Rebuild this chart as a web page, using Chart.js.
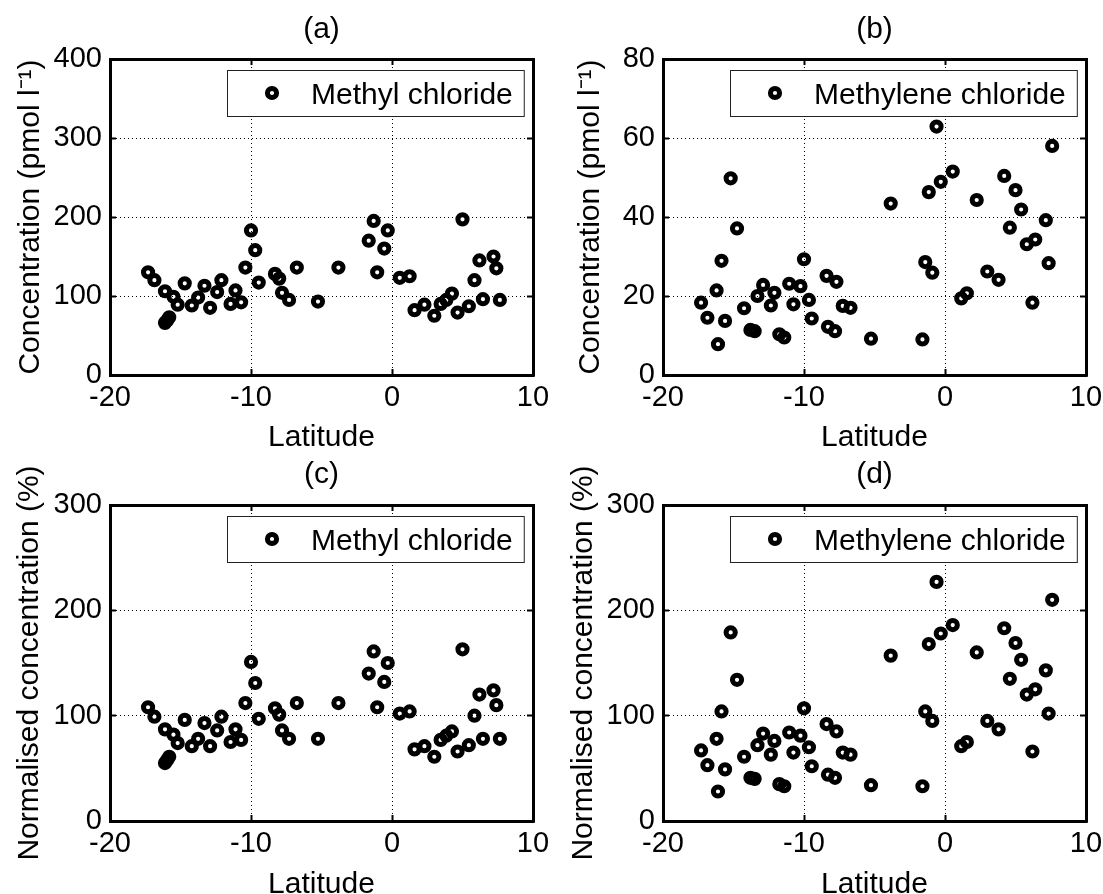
<!DOCTYPE html>
<html>
<head>
<meta charset="utf-8">
<script src="https://cdn.jsdelivr.net/npm/chart.js@4.4.1/dist/chart.umd.min.js"></script>
<style>
    html, body { margin: 0; padding: 0; background: #fff; overflow: hidden; }
    .panel { position: absolute; }
</style>
</head>
<body>
<canvas id="canva_a" class="panel" width="551" height="463" style="left:0px;top:0px"></canvas>
<canvas id="canva_b" class="panel" width="552" height="463" style="left:551px;top:0px"></canvas>
<canvas id="canva_c" class="panel" width="551" height="463" style="left:0px;top:447px"></canvas>
<canvas id="canva_d" class="panel" width="552" height="463" style="left:551px;top:447px"></canvas>
<script>
// latitudes of the samples, (a) and (c) share one set, (b) and (d) the other
const lat_methyl = [-17.3, -16.85, -16.1, -15.5, -15.2, -16.1, -15.95, -15.8, -14.7, -14.2,
    -13.75, -13.3, -12.9, -12.4, -12.1, -11.45, -11.1, -10.7, -10.4, -10.0,
    -9.7, -9.45, -8.3, -8.0, -7.8, -7.3, -6.75, -5.25, -3.8, -1.3,
    -0.3, -1.65, -0.55, -1.05, 0.55, 1.25, 1.6, 2.3, 3.0, 3.45,
    3.85, 4.25, 4.65, 5.0, 5.45, 5.85, 6.2, 6.45, 7.2, 7.4, 7.65];
const methyl_conc = [130, 120, 106, 99, 89, 66, 69, 73, 116, 88,
    98, 113, 85, 105, 120, 90, 107, 92, 136, 183,
    158, 117, 128, 122, 104, 95, 136, 93, 136, 195,
    183, 170, 160, 130, 123, 125, 82, 89, 75, 90,
    95, 103, 79, 197, 87, 120, 145, 96, 150, 135, 95];
const methyl_norm = [108, 99, 87, 82, 74, 55, 58, 61, 96, 71,
    78, 93, 71, 86, 99, 75, 87, 77, 112, 151,
    131, 97, 107, 101, 86, 78, 112, 78, 112, 161,
    150, 140, 132, 108, 102, 104, 68, 71, 61, 77,
    81, 85, 66, 163, 72, 100, 120, 78, 124, 110, 78];

const lat_methylene = [-17.3, -16.85, -16.2, -16.1, -15.85, -15.6, -15.2, -14.75, -14.25, -13.8,
    -13.5, -13.3, -12.9, -12.35, -12.1, -11.75, -11.4, -11.05, -10.75, -10.25,
    -10.0, -9.65, -9.45, -8.4, -8.3, -7.7, -7.8, -7.25, -6.7, -5.25,
    -3.85, -1.6, -1.4, -0.9, -1.15, -0.6, -0.3, 0.55, 1.15, 1.55,
    2.25, 3.0, 3.8, 4.2, 4.6, 5.0, 5.4, 5.8, 6.4, 6.2,
    7.15, 7.35, 7.6];
const methylene_conc = [18.3, 14.5, 21.4, 7.8, 28.9, 13.7, 49.8, 37.1, 16.9, 11.4,
    11.1, 20.0, 22.8, 17.6, 20.8, 10.3, 9.5, 23.1, 17.9, 22.5,
    29.3, 19.0, 14.3, 25.1, 12.2, 23.6, 11.1, 17.5, 17.0, 9.2,
    43.4, 9.0, 28.6, 25.9, 46.3, 62.9, 48.9, 51.5, 19.4, 20.7,
    44.3, 26.2, 24.1, 50.4, 37.3, 46.8, 41.9, 33.1, 34.3, 18.3,
    39.2, 28.3, 58.0];
const methylene_norm = [67, 53, 78, 28, 104, 49, 179, 134, 61, 41,
    40, 72, 83, 63, 76, 35, 33, 84, 65, 81,
    107, 70, 52, 92, 44, 85, 41, 65, 63, 34,
    157, 33, 104, 95, 168, 227, 178, 186, 71, 75,
    160, 95, 87, 183, 135, 169, 153, 120, 125, 66,
    143, 102, 210];

const lat_ticks = [-20, -10, 0, 10];
const conc_methyl_ticks = [0, 100, 200, 300, 400];
const conc_methylene_ticks = [0, 20, 40, 60, 80];
const norm_ticks = [0, 100, 200, 300];

const FONT = '"Liberation Sans", Arial, Helvetica, sans-serif';
Chart.defaults.font.family = FONT;
Chart.defaults.color = '#000';

// legend drawn as a boxed key inside the top right of the plot
const boxLegend = {
    id: 'boxLegend',
    afterDatasetsDraw(chart) {
        const ctx = chart.ctx;
        const area = chart.chartArea;
        const label = chart.data.datasets[0].label;
        ctx.save();
        ctx.font = '30px ' + FONT;
        const w = 95 + ctx.measureText(label).width;
        const h = 46;
        const left = Math.round(area.right - 9 - w);
        const top = Math.round(area.top + 11);
        ctx.fillStyle = '#fff';
        ctx.fillRect(left, top, w, h);
        ctx.strokeStyle = '#222';
        ctx.lineWidth = 1;
        ctx.strokeRect(left + 0.5, top + 0.5, w, h);
        ctx.beginPath();
        ctx.arc(left + 45, top + h / 2, 4.6, 0, 2 * Math.PI);
        ctx.strokeStyle = '#000';
        ctx.lineWidth = 5;
        ctx.stroke();
        ctx.fillStyle = '#000';
        ctx.textBaseline = 'alphabetic';
        ctx.fillText(label, left + 84, top + 34);
        ctx.restore();
    }
};

function useTicks(values) {
    return function (scale) {
        scale.ticks = values.map(v => ({ value: v }));
    };
}

// fixes the size of an axis box so every panel keeps the same plot frame
function pin(prop, size) {
    return function (scale) {
        scale[prop] = size;
        scale.paddingLeft = 0;
        scale.paddingRight = 0;
        scale.paddingTop = 0;
        scale.paddingBottom = 0;
    };
}

function makeConfig(p) {
    const gridMain = { color: '#000', lineWidth: 1, drawTicks: true, tickLength: -6, tickWidth: 2, tickColor: '#000' };
    const gridSide = { drawOnChartArea: false, drawTicks: true, tickLength: -6, tickWidth: 2, tickColor: '#000', color: '#000' };
    const frame = { color: '#000', width: 3 };
    return {
        type: 'scatter',
        data: {
            datasets: [{
                label: p.label,
                data: p.xs.map((x, i) => ({ x: x, y: p.ys[i] })),
                borderColor: '#000',
                backgroundColor: 'rgba(0,0,0,0)',
                pointRadius: 4.6,
                pointBorderWidth: 5,
                pointHoverRadius: 4.6,
                showLine: false
            }]
        },
        options: {
            responsive: false,
            animation: false,
            events: [],
            layout: { padding: 0 },
            plugins: {
                legend: { display: false },
                tooltip: { enabled: false }
            },
            scales: {
                x: {
                    type: 'linear', position: 'bottom', min: -20, max: 10,
                    afterBuildTicks: useTicks(lat_ticks),
                    afterFit: pin('height', p.xH),
                    ticks: { font: { size: 29 }, color: '#000', padding: 12, maxRotation: 0 },
                    grid: gridMain,
                    border: Object.assign({ dash: [1, 3] }, frame),
                    title: { display: true, text: 'Latitude', font: { size: 30 }, color: '#000', padding: { top: 0, bottom: p.xTitlePad } }
                },
                x2: {
                    type: 'linear', position: 'top', min: -20, max: 10,
                    afterBuildTicks: useTicks(lat_ticks),
                    afterFit: pin('height', p.x2H),
                    ticks: { display: false },
                    grid: gridSide,
                    border: frame,
                    title: { display: true, text: p.panel, font: { size: 30 }, color: '#000', padding: { top: p.panelPad, bottom: 0 } }
                },
                y: {
                    type: 'linear', position: 'left', min: 0, max: p.yTicks[p.yTicks.length - 1],
                    afterBuildTicks: useTicks(p.yTicks),
                    afterFit: pin('width', p.yW),
                    ticks: { font: { size: 29 }, color: '#000', padding: 14 },
                    grid: gridMain,
                    border: Object.assign({ dash: [1, 3] }, frame),
                    title: { display: true, text: p.yTitle, font: { size: 30 }, color: '#000', padding: { top: p.yTitlePad, bottom: 0 } }
                },
                y2: {
                    type: 'linear', position: 'right', min: 0, max: p.yTicks[p.yTicks.length - 1],
                    afterBuildTicks: useTicks(p.yTicks),
                    afterFit: pin('width', p.y2W),
                    ticks: { display: false },
                    grid: gridSide,
                    border: frame
                }
            }
        },
        plugins: [boxLegend]
    };
}

// ----- (a) Methyl chloride, concentration -----
const chart_a = new Chart(document.getElementById('canva_a'), makeConfig({
    label: 'Methyl chloride', panel: '(a)', xs: lat_methyl, ys: methyl_conc,
    yTicks: conc_methyl_ticks, yTitle: 'Concentration (pmol l\u207B\u00B9)',
    yW: 110, y2W: 18, x2H: 59, xH: 88, yTitlePad: 13, panelPad: 12, xTitlePad: 7
}));

// ----- (b) Methylene chloride, concentration -----
const chart_b = new Chart(document.getElementById('canva_b'), makeConfig({
    label: 'Methylene chloride', panel: '(b)', xs: lat_methylene, ys: methylene_conc,
    yTicks: conc_methylene_ticks, yTitle: 'Concentration (pmol l\u207B\u00B9)',
    yW: 112, y2W: 17, x2H: 59, xH: 88, yTitlePad: 22, panelPad: 12, xTitlePad: 7
}));

// ----- (c) Methyl chloride, normalised -----
const chart_c = new Chart(document.getElementById('canva_c'), makeConfig({
    label: 'Methyl chloride', panel: '(c)', xs: lat_methyl, ys: methyl_norm,
    yTicks: norm_ticks, yTitle: 'Normalised concentration (%)',
    yW: 110, y2W: 18, x2H: 58, xH: 89, yTitlePad: 12, panelPad: 10, xTitlePad: 7
}));

// ----- (d) Methylene chloride, normalised -----
const chart_d = new Chart(document.getElementById('canva_d'), makeConfig({
    label: 'Methylene chloride', panel: '(d)', xs: lat_methylene, ys: methylene_norm,
    yTicks: norm_ticks, yTitle: 'Normalised concentration (%)',
    yW: 112, y2W: 17, x2H: 58, xH: 89, yTitlePad: 15, panelPad: 10, xTitlePad: 7
}));
</script>
</body>
</html>
